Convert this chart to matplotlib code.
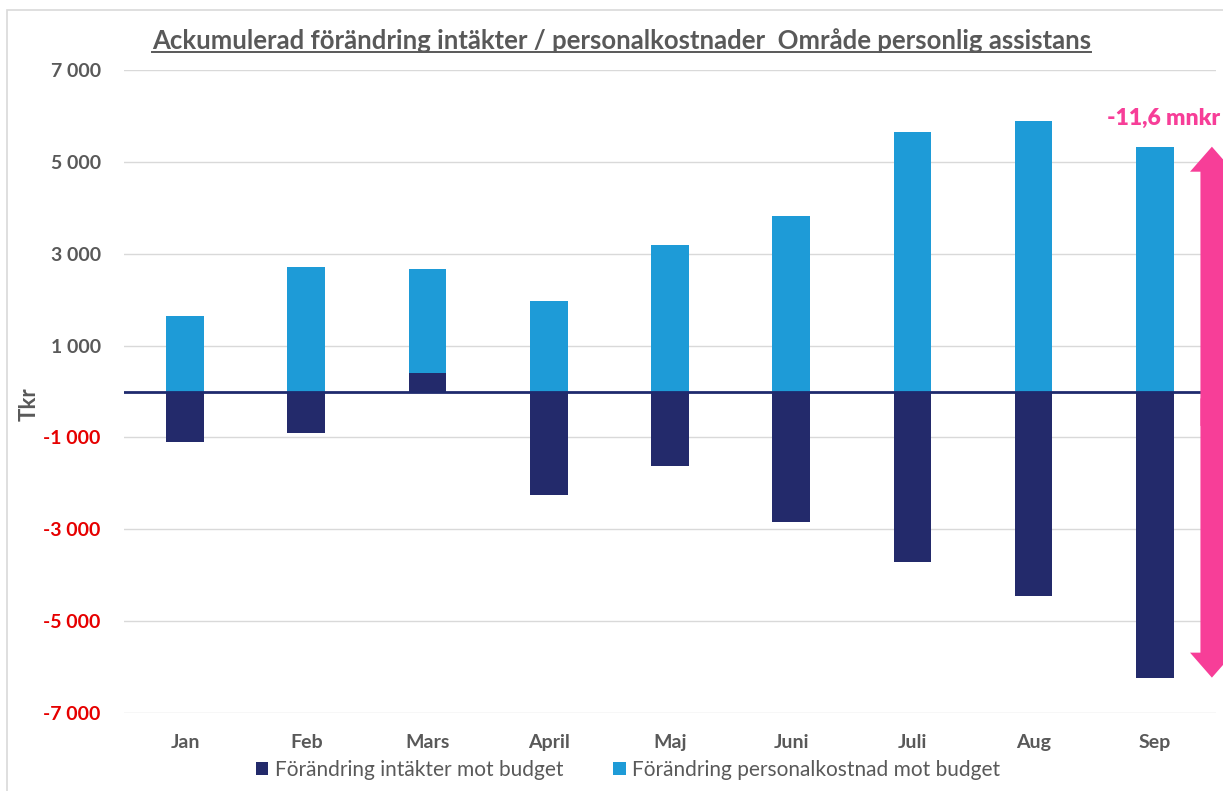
import matplotlib.pyplot as plt
from matplotlib.patches import Rectangle
from matplotlib.lines import Line2D
import numpy as np

# data (Tkr)
months = ["Jan", "Feb", "Mars", "April", "Maj", "Juni", "Juli", "Aug", "Sep"]
intakter = [-1100, -900, 400, -2250, -1620, -2850, -3720, -4450, -6230]
personal = [1650, 2720, 2260, 1960, 3200, 3830, 5640, 5880, 5330]
yticks = [-7000, -5000, -3000, -1000, 1000, 3000, 5000, 7000]
ytick_labels = ["-7 000", "-5 000", "-3 000", "-1 000", "1 000", "3 000", "5 000", "7 000"]

dark = "#232a6b"
light = "#1e9bd7"
pink = "#f73e98"
grey = "#595959"
plt.rcParams['font.family'] = ['Lato', 'DejaVu Sans']

fig = plt.figure(figsize=(12.23, 7.91), dpi=100)
ax = fig.add_axes([0.1017, 0.0986, 0.8922, 0.8129])

x = np.arange(len(months))
w = 0.31
# positive values stack on top of each other like in excel
bottoms = [max(v, 0) for v in intakter]
ax.bar(x, intakter, w, color=dark, zorder=2, label="Förändring intäkter mot budget")
ax.bar(x, personal, w, bottom=bottoms, color=light, zorder=2,
       label="Förändring personalkostnad mot budget")

ax.axhline(0, color="#1f2a6e", lw=2, zorder=3)
ax.set_xlim(-0.5, len(months) - 0.5)
ax.set_ylim(-7000, 7000)
ax.set_yticks(yticks)
ax.set_yticklabels(ytick_labels)
ax.grid(axis="y", color="#d9d9d9", lw=1, zorder=0)
ax.set_axisbelow(True)
for s in ax.spines.values():
    s.set_visible(False)
ax.tick_params(length=0)
ax.tick_params(axis="y", pad=17, labelsize=14)
ax.tick_params(axis="x", pad=15, labelsize=14)
ax.set_xticks(x)
ax.set_xticklabels(months, fontweight="bold", color=grey)
for lab, v in zip(ax.get_yticklabels(), yticks):
    lab.set_fontweight("bold")
    lab.set_color("#e60000" if v < 0 else grey)

ax.set_ylabel("Tkr", fontsize=16, fontweight="bold", color=grey)
ax.yaxis.set_label_coords(-0.078, 0.48)

# double arrow showing the gap in september (two halves that overlap in the middle)
ax_x = len(months) - 1 + 0.47
mid = (personal[-1] + intakter[-1]) / 2
arrow = dict(arrowstyle="simple,head_length=1.2,head_width=2.1,tail_width=1.1",
             mutation_scale=15, color=pink, lw=0, shrinkA=0, shrinkB=0)
ax.annotate("", xy=(ax_x, personal[-1]), xytext=(ax_x, mid - 300), arrowprops=arrow,
            annotation_clip=False, zorder=4)
ax.annotate("", xy=(ax_x, intakter[-1]), xytext=(ax_x, mid + 300), arrowprops=arrow,
            annotation_clip=False, zorder=4)

fig.text(1220 / 1223, 1 - 118 / 791, "-11,6 mnkr", fontsize=16.5, fontweight="heavy",
         color=pink, ha="right", va="center",
         bbox=dict(facecolor="white", edgecolor="none", pad=1))

# title with underline
title = fig.text(0.508, 1 - 41 / 791,
                 "Ackumulerad förändring intäkter / personalkostnader  Område personlig assistans",
                 fontsize=18.5, fontweight="bold", color=grey, ha="center", va="center")
fig.canvas.draw()
bb = title.get_window_extent().transformed(fig.transFigure.inverted())
fig.add_artist(Line2D([bb.x0, bb.x1], [bb.y0 + 0.002, bb.y0 + 0.002],
                      color=grey, lw=1.4, transform=fig.transFigure))

fig.legend(loc="center", bbox_to_anchor=(628 / 1223, 1 - 770 / 791), ncol=2,
           frameon=False, fontsize=15, handlelength=0.6, handleheight=0.6,
           handletextpad=0.3, columnspacing=2.4, labelcolor=grey)

# light frame around the chart
fig.add_artist(Rectangle((7 / 1223, -0.01), 1.0, 1 - 10 / 791 + 0.01,
                         transform=fig.transFigure, fill=False,
                         edgecolor="#d9d9d9", lw=1.2))

fig.savefig("out.png", dpi=100)
